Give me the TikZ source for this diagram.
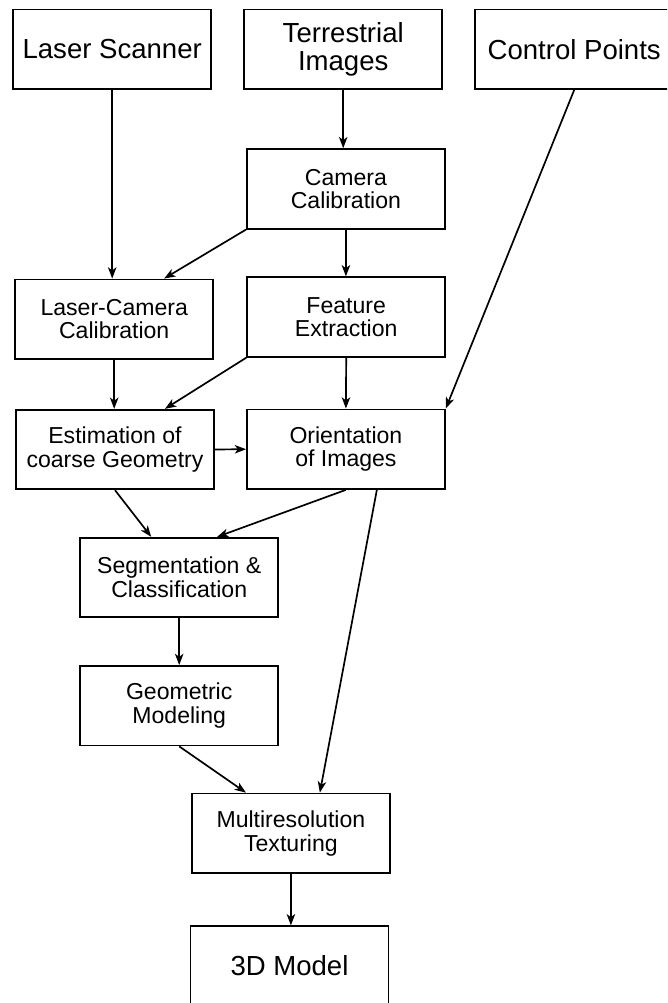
\documentclass[tikz,border=0pt]{standalone}
\usepackage{fontspec}
\setmainfont{Liberation Sans}
\usetikzlibrary{arrows.meta,calc}
\tikzset{
  >={Stealth[length=8pt,width=6pt,inset=2.2pt]},
}
\tikzstyle{block}=[draw,line width=1.2pt,minimum width=4.95cm,minimum height=1.99cm,align=center,inner sep=2pt,font=\fontsize{16.4}{16.8}\selectfont]
\tikzstyle{bigblock}=[block,font=\fontsize{19.6}{19.8}\selectfont]
\tikzstyle{flow}=[->,line width=1.2pt]

\begin{document}
\begin{tikzpicture}[x=0.025cm,y=-0.025cm]
    \clip (0,0) rectangle (667,1003);
    % sources
    \node[bigblock] (laser) at (112.2,49.3) {Laser Scanner};
    \node[bigblock] (terr) at (343.2,49.3) {Terrestrial\\Images};
    \node[bigblock] (ctrl) at (574.2,49.3) {Control Points};
    % processing
    \node[block] (cam) at (345.9,188.9) {Camera\\Calibration};
    \node[block] (lc) at (114.2,319.2) {Laser-Camera\\Calibration};
    \node[block] (feat) at (346.2,317) {Feature\\Extraction};
    \node[block] (est) at (115,449.5) {Estimation of\\coarse Geometry};
    \node[block] (orient) at (345.9,449.2) {Orientation\\of Images};
    \node[block] (seg) at (179.2,577.5) {Segmentation \&\\Classification};
    \node[block] (geo) at (179.2,705.7) {Geometric\\Modeling};
    \node[block] (multi) at (290.9,833.3) {Multiresolution\\Texturing};
    \node[bigblock] (model) at (289.5,966) {3D Model};

    \draw[flow] (laser.south) -- (laser.south |- lc.north);
    \draw[flow] (terr.south) -- (terr.south |- cam.north);
    \draw[flow] (ctrl.south) -- (orient.north east);
    \draw[flow] (cam.south west) -- ($(lc.north)!0.5!(lc.north east)$);
    \draw[flow] (cam.south) -- (cam.south |- feat.north);
    \draw[flow] (lc.south) -- (lc.south |- est.north);
    \draw[flow] (feat.south west) -- ($(est.north)!0.5!(est.north east)$);
    \draw[flow] (feat.south) -- (orient.north);
    \draw[flow] (est.east) -- (orient.west);
    \draw[flow] (est.south) -- ($(seg.north)!0.28!(seg.north west)$);
    \draw[flow] (orient.south) -- ($(seg.north)!0.38!(seg.north east)$);
    \draw[flow] (seg.south) -- (geo.north);
    \draw[flow] (geo.south) -- ($(multi.north)!0.45!(multi.north west)$);
    \draw[flow] ($(orient.south)!0.31!(orient.south east)$) -- ($(multi.north)!0.29!(multi.north east)$);
    \draw[flow] (multi.south) -- (multi.south |- model.north);
\end{tikzpicture}
\end{document}
